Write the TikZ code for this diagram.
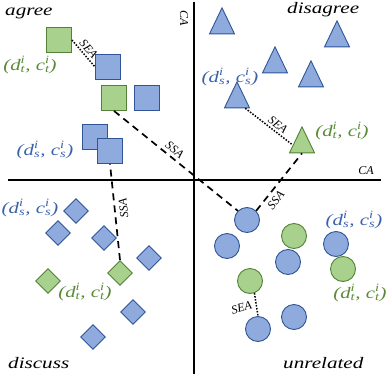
\documentclass[tikz,border=0pt]{standalone}
\usepackage{graphicx}
\usepackage{fontspec}
\setmainfont{Liberation Serif}
\usetikzlibrary{shapes.geometric}
\definecolor{bfill}{HTML}{8FAADC}
\definecolor{bline}{HTML}{2F5597}
\definecolor{gfill}{HTML}{A9D18E}
\definecolor{gline}{HTML}{538135}
\definecolor{btext}{HTML}{3A62AC}
\definecolor{gtext}{HTML}{5A8A38}
\newcommand\stk[2]{\makebox[0pt][l]{\textsuperscript{#1}}\textsubscript{#2}}
\newcommand\lblS{\scalebox{1.3}[1]{\fontsize{16}{16}\selectfont\itshape (d\stk{i}{s}, c\stk{i}{s})}}
\newcommand\lblT{\scalebox{1.3}[1]{\fontsize{16}{16}\selectfont\itshape (d\stk{i}{t}, c\stk{i}{t})}}
\newcommand\catlbl[1]{\scalebox{1.32}[1]{\fontsize{16}{16}\selectfont\itshape #1}}
\tikzset{
  shp/.style={draw, line width=0.9pt, inner sep=0pt},
  bs/.style={shp, rectangle, minimum size=25pt, fill=bfill, draw=bline},
  gs/.style={shp, rectangle, minimum size=25pt, fill=gfill, draw=gline},
  bd/.style={shp, diamond, minimum size=25pt, fill=bfill, draw=bline},
  gd/.style={shp, diamond, minimum size=25pt, fill=gfill, draw=gline},
  bc/.style={shp, circle, minimum size=25pt, fill=bfill, draw=bline},
  gc/.style={shp, circle, minimum size=25pt, fill=gfill, draw=gline},
  trishape/.style={shp, isosceles triangle, shape border rotate=90, isosceles triangle stretches, minimum width=25pt, minimum height=26pt},
  bt/.style={trishape, fill=bfill, draw=bline},
  gt/.style={trishape, fill=gfill, draw=gline},
  axisline/.style={line width=1.8pt, black},
  sea/.style={line width=1.5pt, dash pattern=on 1.5pt off 1.5pt},
  ssa/.style={line width=1.7pt, dash pattern=on 7pt off 5pt},
  small/.style={font=\fontsize{12}{12}\selectfont\itshape, inner sep=1pt},
  slbl/.style={text=btext, inner sep=0pt},
  tlbl/.style={text=gtext, inner sep=0pt},
  cat/.style={inner sep=0pt, anchor=base west}
}
\begin{document}
\begin{tikzpicture}[x=1pt, y=-1pt]
\useasboundingbox (0,0) rectangle (390,374);
% axes
\coordinate (axl) at (8,180);
\coordinate (axr) at (381,180);
\coordinate (ayt) at (194,2);
\coordinate (ayb) at (194,374);
\draw[axisline] (axl) -- (axr);
\draw[axisline] (ayt) -- (ayb);
\node[small] (cah) at (366,171) {CA};
\node[small, rotate=-90] (cav) at (184,18) {CA};
% category labels
\node[cat] (agree) at (5,16) {\catlbl{agree}};
\node[cat] (disagree) at (287,14) {\catlbl{disagree}};
\node[cat] (discuss) at (8,368) {\catlbl{discuss}};
\node[cat] (unrelated) at (283,368) {\catlbl{unrelated}};
% agree squares
\node[gs] (g1) at (59,40) {};
\node[bs] (b1) at (108,67) {};
\node[gs] (g2) at (114,98) {};
\node[bs] (b2) at (147,98) {};
\node[bs] (b3) at (95,137) {};
\node[bs] (b4) at (110,151) {};
\node[tlbl] (lt1) at (30,65) {\lblT};
\node[slbl] (ls1) at (45,150) {\lblS};
% disagree triangles
\node[bt] (t1) at (222,26) {};
\node[bt] (t2) at (337,39) {};
\node[bt] (t3) at (275,65) {};
\node[bt] (t4) at (311,79) {};
\node[bt] (t5) at (237,100) {};
\node[gt] (tg) at (302,145) {};
\node[slbl] (ls3) at (230,77) {\lblS};
\node[tlbl] (lt3) at (342,131) {\lblT};
% discuss diamonds
\node[bd] (d1) at (76,211) {};
\node[bd] (d2) at (58,233) {};
\node[bd] (d3) at (104,238) {};
\node[bd] (d4) at (149,258) {};
\node[gd] (dg1) at (48,281) {};
\node[gd] (dg2) at (120,273) {};
\node[bd] (d5) at (133,312) {};
\node[bd] (d6) at (93,337) {};
\node[slbl] (ls2) at (30,208) {\lblS};
\node[tlbl] (lt2) at (85,292) {\lblT};
% unrelated circles
\node[bc] (c1) at (247,220) {};
\node[bc] (c2) at (227,246) {};
\node[gc] (cg1) at (294,236) {};
\node[bc] (c3) at (288,262) {};
\node[bc] (c4) at (336,244) {};
\node[gc] (cg2) at (343,269) {};
\node[gc] (cg3) at (250,281) {};
\node[bc] (c5) at (294,317) {};
\node[bc] (c6) at (258,329) {};
\node[slbl] (ls4) at (354,220) {\lblS};
\node[tlbl] (lt4) at (360,293) {\lblT};
% connectors
\draw[sea] (g1.east) -- (b1.west) node[small, midway, sloped, above=1pt] {SEA};
\draw[ssa] (g2.south) -- (c1.135) node[small, pos=0.45, sloped, above=2pt] {SSA};
\draw[ssa] (c1.45) -- (tg.south) node[small, pos=0.28, sloped, below=3pt] {SSA};
\draw[ssa] (dg2.north) -- (b4.south) node[small, pos=0.53, sloped, allow upside down, below=3pt] {SSA};
\draw[sea] (t5.south east) -- (tg.west) node[small, pos=0.6, sloped, above=1pt] {SEA};
\draw[sea] (cg3.-70) -- (c6.north) node[small, midway, left=3pt, rotate=15] {SEA};
\end{tikzpicture}
\end{document}
